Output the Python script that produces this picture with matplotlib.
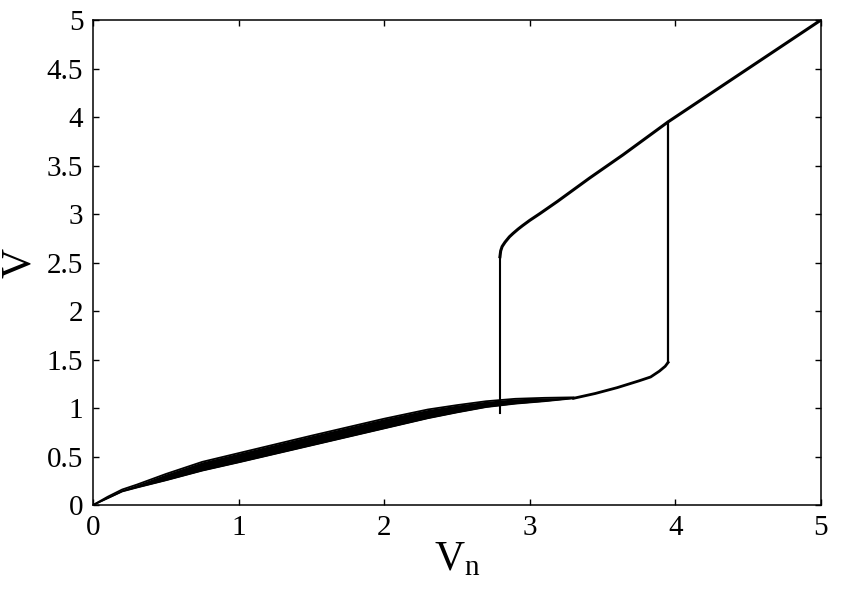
import matplotlib
matplotlib.use("Agg")
import matplotlib.pyplot as plt

# Lower branch (thick band of overlapping trajectories)
band_x = [0.0, 0.1, 0.2, 0.3, 0.5, 0.75, 1.0, 1.5, 2.0, 2.3, 2.5, 2.7, 2.9, 3.1, 3.3]
band_upper = [0.0, 0.085, 0.16, 0.21, 0.32, 0.445, 0.535, 0.715, 0.89, 0.985, 1.03, 1.07, 1.095, 1.105, 1.11]
band_lower = [0.0, 0.07, 0.14, 0.18, 0.255, 0.355, 0.44, 0.615, 0.79, 0.895, 0.955, 1.01, 1.045, 1.07, 1.10]

# Lower branch tail up to the upward jump
tail_x = [3.30, 3.45, 3.60, 3.75, 3.83, 3.89, 3.93, 3.95]
tail_y = [1.10, 1.15, 1.21, 1.28, 1.32, 1.38, 1.43, 1.47]

# Upward jump
jump_up_x = [3.95, 3.95]
jump_up_y = [1.47, 3.95]

# Upper branch
upper_x = [2.795, 2.80, 2.81, 2.83, 2.86, 2.885, 2.92, 2.95, 3.00, 3.07, 3.19, 3.41, 3.64, 3.95, 5.00]
upper_y = [2.56, 2.62, 2.665, 2.71, 2.765, 2.80, 2.845, 2.88, 2.935, 3.005, 3.13, 3.37, 3.61, 3.95, 5.00]

# Downward jump
jump_down_x = [2.795, 2.795]
jump_down_y = [2.56, 0.95]

x_ticks = [0, 1, 2, 3, 4, 5]
y_ticks = [0, 0.5, 1, 1.5, 2, 2.5, 3, 3.5, 4, 4.5, 5]
y_ticklabels = ["0", "0.5", "1", "1.5", "2", "2.5", "3", "3.5", "4", "4.5", "5"]

plt.rcParams['font.family'] = ['Liberation Serif', 'DejaVu Serif']
plt.rcParams['mathtext.fontset'] = 'custom'
plt.rcParams['mathtext.rm'] = 'Liberation Serif'
plt.rcParams['mathtext.it'] = 'Liberation Serif:italic'

fig = plt.figure(figsize=(8.46, 5.94), dpi=100)
ax = fig.add_axes([0.110, 0.1498, 0.8604, 0.8165])

ax.fill_between(band_x, band_lower, band_upper, color='black', linewidth=0)
ax.plot(band_x, band_upper, color='black', lw=1.3, solid_joinstyle='round')
ax.plot(band_x, band_lower, color='black', lw=1.3, solid_joinstyle='round')
ax.plot(tail_x, tail_y, color='black', lw=2.0, solid_joinstyle='round')
ax.plot(jump_up_x, jump_up_y, color='black', lw=1.6)
ax.plot(upper_x, upper_y, color='black', lw=2.2, solid_joinstyle='round')
ax.plot(jump_down_x, jump_down_y, color='black', lw=1.5)

ax.set_xlim(0, 5)
ax.set_ylim(0, 5)
ax.set_xticks(x_ticks)
ax.set_xticklabels([str(t) for t in x_ticks])
ax.set_yticks(y_ticks)
ax.set_yticklabels(y_ticklabels)
ax.tick_params(direction='in', length=4.5, width=1.0, labelsize=21,
               top=True, right=True, pad=7)
for s in ax.spines.values():
    s.set_linewidth(1.1)

ax.set_xlabel(r'$\mathrm{V_n}$', fontsize=30, labelpad=0)
ax.set_ylabel('V', fontsize=30, labelpad=6)

fig.savefig('out.png', dpi=100)
